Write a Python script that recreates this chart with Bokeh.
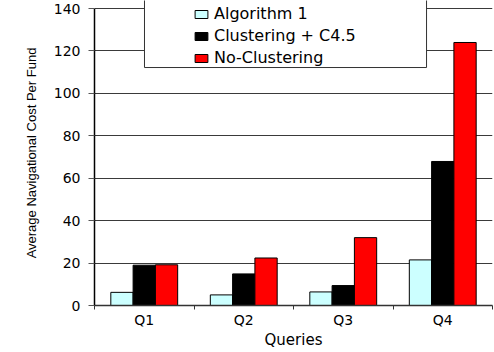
from bokeh.plotting import figure
from bokeh.models import (ColumnDataSource, Range1d, FixedTicker, Legend, LegendItem,
                          BoxAnnotation)
from bokeh.embed import file_html
from bokeh.resources import INLINE

categories = ["Q1", "Q2", "Q3", "Q4"]
series_names = ["Algorithm 1", "Clustering + C4.5", "No-Clustering"]
algorithm1 = [6.2, 5.0, 6.4, 21.5]
clustering_c45 = [19.0, 14.9, 9.4, 67.9]
no_clustering = [19.2, 22.4, 32.0, 124.0]
y_ticks = [0, 20, 40, 60, 80, 100, 120, 140]

colors = ["#CCFFFF", "#000000", "#FF0000"]
bar_w = 0.224
offsets = [-bar_w, 0.0, bar_w]

# y range reaches a little above the top tick so the legend is not clipped
p = figure(width=494, height=352, output_backend="svg", toolbar_location=None,
           x_range=Range1d(0, len(categories)), y_range=Range1d(0, 143.8),
           min_border_left=94, min_border_right=2, min_border_top=0, min_border_bottom=47)
p.background_fill_color = "white"
p.border_fill_color = "white"
p.outline_line_color = None

renderers = []
for vals, color, off in zip([algorithm1, clustering_c45, no_clustering], colors, offsets):
    src = ColumnDataSource(dict(x=[i + 0.5 + off for i in range(len(categories))], top=vals))
    r = p.vbar(x="x", top="top", bottom=0, width=bar_w, source=src,
               fill_color=color, line_color="black", line_width=1)
    renderers.append(r)

# grids: horizontal lines at ticks, right plot-area border as a bounded vertical grid line
p.ygrid.ticker = FixedTicker(ticks=y_ticks)
p.ygrid.grid_line_color = "#3a3a3a"
p.ygrid.grid_line_width = 1
p.xgrid.ticker = FixedTicker(ticks=[len(categories)])
p.xgrid.bounds = (y_ticks[0], y_ticks[-1])
p.xgrid.grid_line_color = "#8c8c8c"
p.xgrid.grid_line_width = 1

p.yaxis.ticker = FixedTicker(ticks=y_ticks)
p.yaxis.bounds = (y_ticks[0], y_ticks[-1])
p.yaxis.axis_line_color = "black"
p.yaxis.axis_line_width = 1.5
p.yaxis.major_tick_out = 6
p.yaxis.major_tick_in = 0
p.yaxis.major_tick_line_color = "#555555"
p.yaxis.minor_tick_line_color = None
p.yaxis.major_label_standoff = 8
p.yaxis.major_label_text_font = "DejaVu Sans"
p.yaxis.major_label_text_font_size = "14px"
p.yaxis.major_label_text_color = "black"
p.yaxis.axis_label = "Average Navigational Cost Per Fund"
p.yaxis.axis_label_text_font = "Liberation Sans Narrow, Liberation Sans, sans-serif"
p.yaxis.axis_label_text_font_size = "13px"
p.yaxis.axis_label_text_font_style = "normal"
p.yaxis.axis_label_text_color = "black"
p.yaxis.axis_label_standoff = 12

centers = [i + 0.5 for i in range(len(categories))]
bounds = [float(i) for i in range(len(categories) + 1)]
p.xaxis.ticker = FixedTicker(ticks=centers, minor_ticks=bounds)
p.xaxis.major_label_overrides = {c: name for c, name in zip(centers, categories)}
p.xaxis.major_tick_line_color = None
p.xaxis.major_tick_out = 0
p.xaxis.major_tick_in = 0
p.xaxis.minor_tick_out = 4
p.xaxis.minor_tick_in = 0
p.xaxis.minor_tick_line_color = "#333333"
p.xaxis.axis_line_color = "#333333"
p.xaxis.axis_line_width = 1.5
p.xaxis.major_label_standoff = 2
p.xaxis.major_label_text_font = "DejaVu Sans"
p.xaxis.major_label_text_font_size = "14px"
p.xaxis.major_label_text_color = "black"
p.xaxis.axis_label = "Queries"
p.xaxis.axis_label_text_font = "DejaVu Sans"
p.xaxis.axis_label_text_font_size = "15px"
p.xaxis.axis_label_text_font_style = "normal"
p.xaxis.axis_label_text_color = "black"
p.xaxis.axis_label_standoff = 0

# legend frame (top edge lies beyond the plotted range)
box = BoxAnnotation(left=0.5025, right=3.337, top=150, bottom=112.2,
                    fill_color="white", fill_alpha=1.0,
                    line_color="#333333", line_width=1, line_alpha=1.0)
p.add_layout(box)

legend = Legend(items=[LegendItem(label=n, renderers=[r]) for n, r in zip(series_names, renderers)],
                location=(99, 238), padding=0, margin=0, spacing=3,
                glyph_width=16, glyph_height=10, label_standoff=5,
                label_text_font="DejaVu Sans", label_text_font_size="16px",
                label_text_color="black",
                background_fill_alpha=0, border_line_color=None)
p.add_layout(legend)

open("out.html", "w").write(file_html(p, INLINE))
